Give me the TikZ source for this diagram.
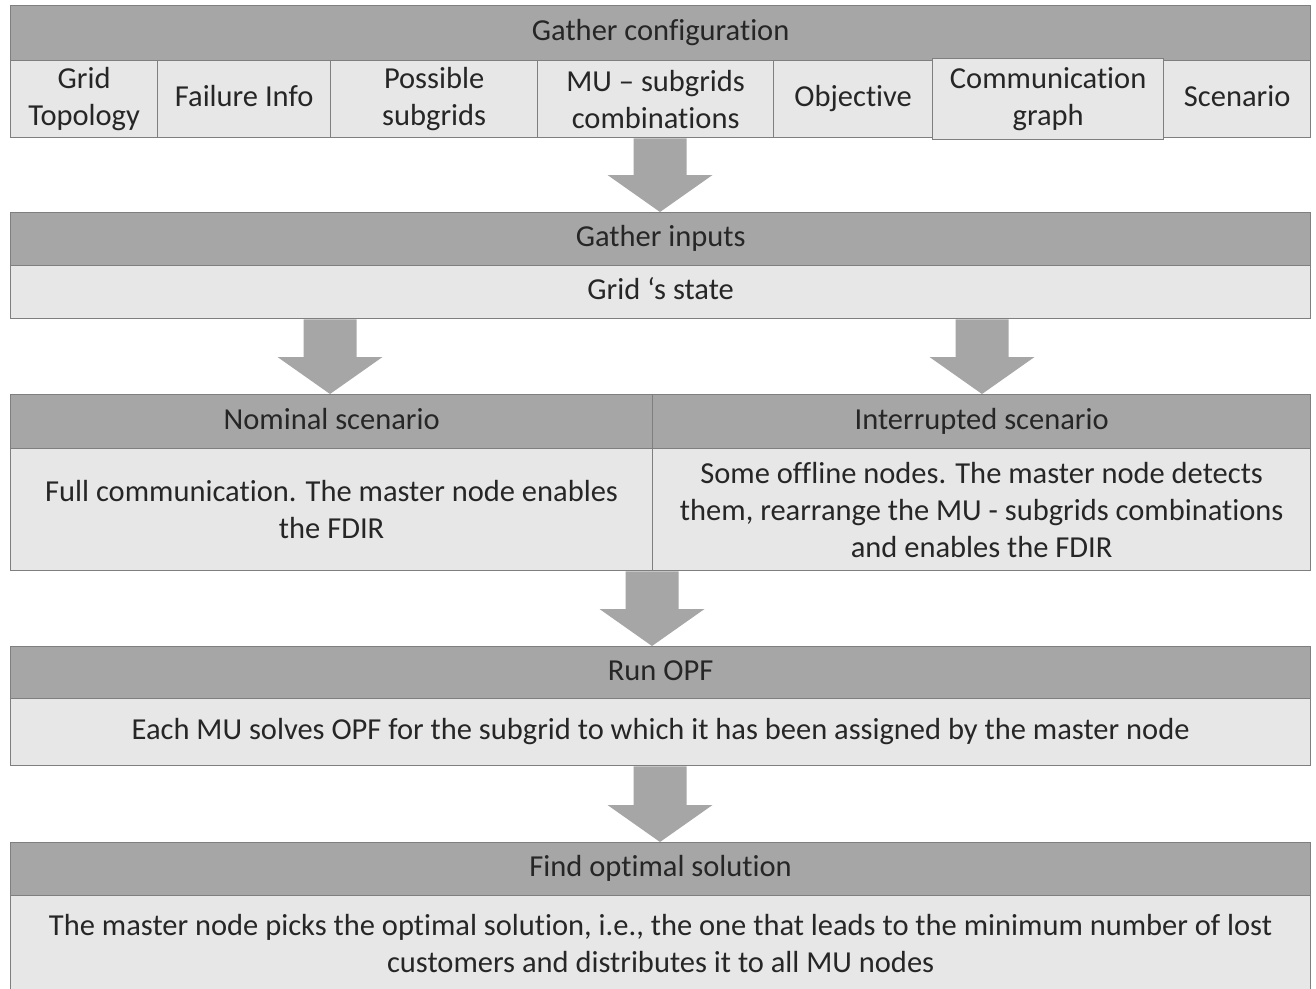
\documentclass[tikz,border=0pt]{standalone}
\usepackage{fontspec}
\setmainfont{Carlito}[Ligatures={NoCommon}]
\usetikzlibrary{calc}
\definecolor{headgray}{HTML}{A6A6A6}
\definecolor{bodygray}{HTML}{E8E7E7}
\definecolor{edgegray}{HTML}{7F7F7F}
\definecolor{txtgray}{HTML}{262626}
\definecolor{arrowgray}{HTML}{A6A6A6}
% block arrow pointing down at x=#1, from node anchor #2 to node anchor #3
\newcommand\blockarr[3]{%
  \fill[arrowgray] let \p1=(#2), \p2=(#3) in
    (#1-26.5,\y1) -- (#1+26.5,\y1) -- (#1+26.5,\y2+37pt) -- (#1+52.5,\y2+37pt)
    -- (#1,\y2) -- (#1-52.5,\y2+37pt) -- (#1-26.5,\y2+37pt) -- cycle;}
\begin{document}
\begin{tikzpicture}[x=1pt,y=-1pt,
  box/.style={draw=edgegray, line width=1.3pt, anchor=north west, inner sep=0pt,
    align=center, text=txtgray, font=\fontsize{30.5}{37}\selectfont},
  oneline/.style={execute at begin node=\strut, execute at end node=\strut},
  headbox/.style={box, oneline, fill=headgray},
  bodybox/.style={box, oneline, fill=bodygray},
  multibox/.style={box, fill=bodygray}]
\useasboundingbox (0,0) rectangle (1316,988);
\fill[white] (0,0) rectangle (1316,988);

% configuration
\node[headbox, minimum width=1300pt, minimum height=55pt] (cfg) at (10,5) {Gather configuration};
\node[multibox, minimum width=147pt, minimum height=77pt] (c1) at (10,60) {Grid\\Topology};
\node[bodybox, minimum width=173pt, minimum height=77pt] (c2) at (157,60) {Failure Info};
\node[multibox, minimum width=207pt, minimum height=77pt] (c3) at (330,60) {Possible\\subgrids};
\node[multibox, minimum width=236pt, minimum height=77pt] (c4) at (537,60) {MU – subgrids\\combinations};
\node[bodybox, minimum width=159pt, minimum height=77pt] (c5) at (773,60) {Objective};
\node[bodybox, minimum width=147pt, minimum height=77pt] (c7) at (1163,60) {Scenario};
\node[multibox, minimum width=231pt, minimum height=81pt] (c6) at (932,58) {Communication\\graph};

% inputs
\node[headbox, minimum width=1300pt, minimum height=53pt] (inp) at (10,212) {Gather inputs};
\node[bodybox, minimum width=1300pt, minimum height=53pt] (state) at (10,265) {Grid ‘s state};

% scenarios
\node[headbox, minimum width=642pt, minimum height=54pt] (nomh) at (10,394) {Nominal scenario};
\node[headbox, minimum width=658pt, minimum height=54pt] (inth) at (652,394) {Interrupted scenario};
\node[multibox, minimum width=642pt, minimum height=122pt] (nomb) at (10,448)
  {Full communication. The master node enables\\the FDIR};
\node[multibox, minimum width=658pt, minimum height=122pt] (intb) at (652,448)
  {Some offline nodes. The master node detects\\them, rearrange the MU - subgrids combinations\\and enables the FDIR};

% OPF
\node[headbox, minimum width=1300pt, minimum height=52pt] (opfh) at (10,646) {Run OPF};
\node[bodybox, minimum width=1300pt, minimum height=67pt] (opfb) at (10,698)
  {Each MU solves OPF for the subgrid to which it has been assigned by the master node};

% optimal solution
\node[headbox, minimum width=1300pt, minimum height=53pt] (opth) at (10,842) {Find optimal solution};
\node[multibox, minimum width=1300pt, minimum height=96pt] (optb) at (10,895)
  {The master node picks the optimal solution, i.e., the one that leads to the minimum number of lost\\customers and distributes it to all MU nodes};

% block arrows
\blockarr{660}{c4.south}{inp.north}
\blockarr{330}{state.south}{nomh.north}
\blockarr{982}{state.south}{inth.north}
\blockarr{652}{nomb.south east}{opfh.north}
\blockarr{660}{opfb.south}{opth.north}
\end{tikzpicture}
\end{document}
